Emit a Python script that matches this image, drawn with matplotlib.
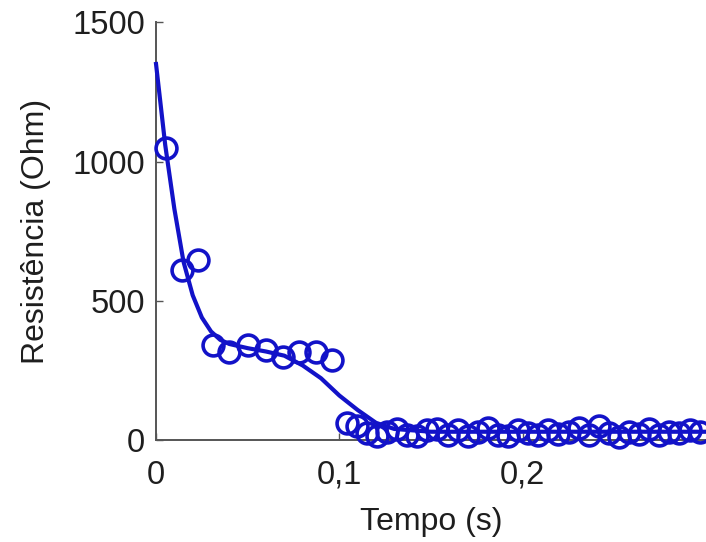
import matplotlib
matplotlib.use("Agg")
import matplotlib.pyplot as plt
from matplotlib.ticker import FuncFormatter

plt.rcParams['font.family'] = ['Liberation Sans', 'DejaVu Sans']

# Measured resistance samples
t_meas = [0.0055, 0.0142, 0.0230, 0.0310, 0.0400, 0.0500, 0.0600, 0.0690,
          0.0780, 0.0870, 0.0960,
          0.1040, 0.1095, 0.1150, 0.1205, 0.1260, 0.1315, 0.1370, 0.1425,
          0.1480, 0.1535, 0.1590, 0.1645, 0.1700, 0.1755, 0.1810, 0.1865,
          0.1920, 0.1975, 0.2030, 0.2085, 0.2140, 0.2195, 0.2250, 0.2305,
          0.2360, 0.2415, 0.2470, 0.2525, 0.2580, 0.2635, 0.2690, 0.2745,
          0.2800, 0.2855, 0.2910, 0.2965]
r_meas = [1050, 610, 646, 341, 316, 341, 323, 298,
          316, 316, 287,
          60, 50, 25, 15, 30, 40, 20, 15,
          35, 40, 20, 38, 15, 30, 42, 20,
          15, 35, 25, 18, 38, 22, 30, 45,
          20, 50, 25, 12, 30, 22, 40, 18,
          30, 25, 35, 28]

# Fitted model curve
t_fit = [0.000, 0.005, 0.010, 0.015, 0.020, 0.025, 0.030, 0.035, 0.040,
         0.050, 0.060, 0.070, 0.080, 0.090, 0.100, 0.110, 0.120, 0.130,
         0.150, 0.300]
r_fit = [1350, 1060, 830, 640, 520, 440, 390, 360, 345,
         330, 318, 303, 268, 222, 160, 108, 62, 40,
         30, 30]

x_ticks = [0, 0.1, 0.2]
y_ticks = [0, 500, 1000, 1500]

blue = '#1212c8'

fig = plt.figure(figsize=(7.06, 5.42), dpi=100)
ax = fig.add_axes([0.221, 0.188, 0.779, 0.771])

ax.plot(t_fit, r_fit, color=blue, lw=3.0, zorder=3, clip_on=False)
ax.plot(t_meas, r_meas, linestyle='none', marker='o', markersize=15,
        markerfacecolor='none', markeredgecolor=blue, markeredgewidth=2.6,
        zorder=4, clip_on=False)

ax.set_xlim(0, 0.3)
ax.set_ylim(0, 1500)
ax.set_xticks(x_ticks)
ax.set_yticks(y_ticks)
ax.xaxis.set_major_formatter(FuncFormatter(lambda v, p: ('%g' % v).replace('.', ',')))

for s in ('top', 'right'):
    ax.spines[s].set_visible(False)
for s in ('left', 'bottom'):
    ax.spines[s].set_color('#555555')
    ax.spines[s].set_linewidth(1.4)

ax.tick_params(direction='in', length=5, width=1, colors='#555555',
               labelsize=23.5, labelcolor='#1e1e1e')
ax.tick_params(axis='x', pad=14)
ax.tick_params(axis='y', pad=8)

ax.set_xlabel('Tempo (s)', fontsize=23, color='#1e1e1e', labelpad=12)
ax.set_ylabel('Resistência (Ohm)', fontsize=23, color='#1e1e1e', labelpad=15)

fig.savefig('out.png', dpi=100)
